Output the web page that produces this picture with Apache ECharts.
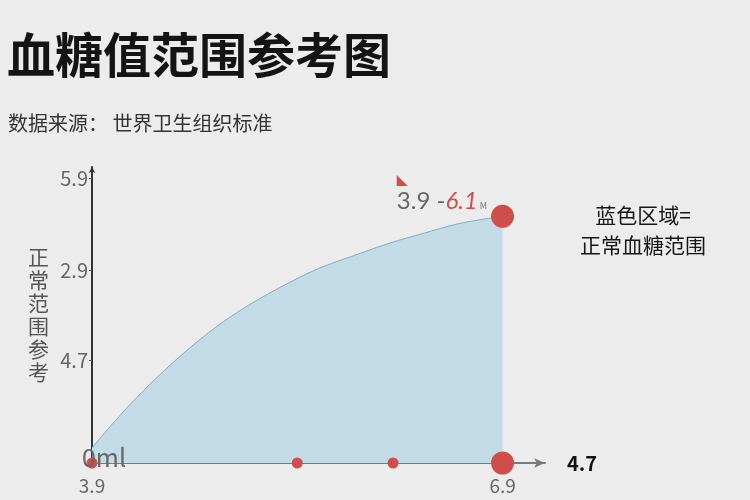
<!DOCTYPE html>
<html>
<head>
<meta charset="utf-8">
<script src="https://cdn.jsdelivr.net/npm/echarts@6/dist/echarts.min.js"></script>
<style>
html,body{margin:0;padding:0;background:#ececec;}
#chart{width:750px;height:500px;}
</style>
</head>
<body>
<div id="chart"></div>
<script>
// ---- data ----
const titleText = '血糖值范围参考图';
const subtitleText = '数据来源： 世界卫生组织标准';
const yAxisName = '正常范围参考';
const xAxisName = '4.7';
const noteLines = ['蓝色区域=', '正常血糖范围'];

const curveX = [3.9, 4.03, 4.18, 4.38, 4.62, 4.86, 5.11, 5.42, 5.59, 5.84, 6.08, 6.32, 6.57, 6.76, 6.9];
const curveY = [0.16, 0.38, 0.62, 0.91, 1.22, 1.49, 1.72, 1.96, 2.07, 2.20, 2.32, 2.42, 2.52, 2.57, 2.60];

const xTickValues = [3.9, 6.9];
const xTickLabels = ['3.9', '6.9'];
const yTickValues = [0, 1.08, 2.03, 3.0];
const yTickLabels = ['0ml', '4.7', '2.9', '5.9'];

const smallDotsX = [3.9, 5.4, 6.1];
const bigDotsX = [6.9];
const peakLabel = { low: '3.9 -', high: '6.1', unit: ' M' };

// ---- chart ----
const font = '"Noto Sans CJK SC", "Noto Sans", sans-serif';
const red = '#cf4e4c';
const chart = echarts.init(document.getElementById('chart'));

const curveData = curveX.map((x, i) => [x, curveY[i]]);
const peak = curveData[curveData.length - 1];

chart.setOption({
  backgroundColor: '#ececec',
  animation: false,
  textStyle: { fontFamily: font },
  title: [{
    text: titleText,
    left: 2, top: 26,
    textStyle: { fontSize: 48, fontWeight: 'bold', color: '#141414', fontFamily: font }
  }, {
    text: subtitleText,
    left: 3, top: 108,
    textStyle: { fontSize: 20, fontWeight: 'normal', color: '#333', fontFamily: font }
  }],
  graphic: [{
    type: 'text',
    x: 643, y: 200,
    style: {
      text: noteLines.join('\n'),
      font: '21px ' + font,
      fill: '#161616',
      align: 'center',
      verticalAlign: 'top',
      lineHeight: 30
    }
  }],
  grid: { left: 92, right: 205, top: 167, bottom: 37, containLabel: false },
  xAxis: {
    type: 'value',
    min: 3.9, max: 7.21,
    splitLine: { show: false },
    axisLine: { show: true, lineStyle: { color: '#7a7a7a', width: 2 }, symbol: ['none', 'arrow'], symbolSize: [7, 11] },
    axisTick: { show: false },
    axisLabel: {
      customValues: xTickValues,
      formatter: v => { const i = xTickValues.findIndex(t => Math.abs(t - v) < 1e-6); return i >= 0 ? xTickLabels[i] : ''; },
      color: '#666', fontSize: 19, margin: 13
    },
    name: xAxisName,
    nameLocation: 'end',
    nameGap: 22,
    nameTextStyle: { color: '#111', fontSize: 20, fontWeight: 'bold', verticalAlign: 'middle', padding: [6, 0, 0, 0] }
  },
  yAxis: {
    type: 'value',
    min: 0, max: 3.12,
    splitLine: { show: false },
    axisLine: { show: true, lineStyle: { color: '#333', width: 2 }, symbol: ['none', 'arrow'], symbolSize: [5, 6] },
    axisTick: { show: true, customValues: yTickValues.slice(1), length: 3, inside: false, lineStyle: { color: '#555' } },
    axisLabel: {
      customValues: yTickValues.slice(1),
      formatter: v => { const i = yTickValues.findIndex(t => Math.abs(t - v) < 1e-6); return i > 0 ? yTickLabels[i] : ''; },
      color: '#666', fontSize: 20, margin: 4
    },
    name: yAxisName.split('').join('\n'),
    nameLocation: 'middle',
    nameGap: 43,
    nameRotate: 0,
    nameTextStyle: { color: '#555', fontSize: 21, lineHeight: 23, padding: [10, 0, 0, 0] }
  },
  series: [{
    type: 'line',
    data: curveData,
    smooth: 0.3,
    showSymbol: false,
    lineStyle: { color: '#84abbd', width: 1 },
    areaStyle: { color: '#c3dbe6', opacity: 1 },
    z: 1
  }, {
    type: 'scatter',
    data: [[smallDotsX[0], 0]],
    symbolSize: 11,
    itemStyle: { color: red, opacity: 1 },
    label: {
      show: true, position: 'inside', offset: [12, -6],
      formatter: () => yTickLabels[0],
      color: '#666', fontSize: 25
    },
    clip: false, z: 3
  }, {
    type: 'scatter',
    data: smallDotsX.slice(1).map(x => [x, 0]),
    symbolSize: 11,
    itemStyle: { color: red, opacity: 1 },
    clip: false, z: 4
  }, {
    type: 'scatter',
    data: bigDotsX.map(x => [x, 0]),
    symbolSize: 23,
    itemStyle: { color: red, opacity: 1 },
    clip: false, z: 4
  }, {
    type: 'scatter',
    data: [peak],
    symbolSize: 23,
    itemStyle: { color: red, opacity: 1 },
    label: {
      show: true,
      position: 'left',
      distance: 4,
      offset: [0, -22],
      formatter: () => '{f|◣}\n{g|' + peakLabel.low + '}{r|' + peakLabel.high + '}{s|' + peakLabel.unit + '}',
      rich: {
        f: { color: red, fontSize: 11, lineHeight: 14, align: 'left' },
        g: { color: '#666', fontSize: 24, lineHeight: 28, fontFamily: 'Lato, sans-serif' },
        r: { color: red, fontSize: 24, lineHeight: 28, fontStyle: 'italic', fontFamily: 'Lato, sans-serif' },
        s: { color: '#777', fontSize: 9, lineHeight: 28, padding: [8, 0, 0, 0] }
      }
    },
    clip: false, z: 4
  }]
});
</script>
</body>
</html>
